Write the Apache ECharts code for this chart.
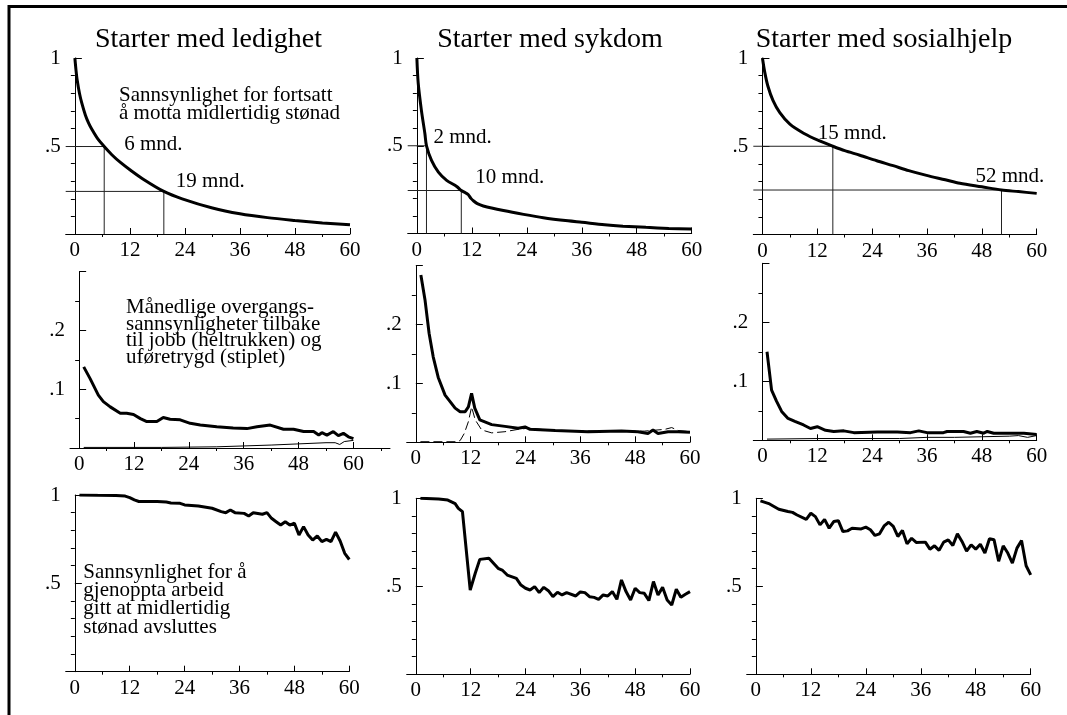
<!DOCTYPE html>
<html>
<head>
<meta charset="utf-8">
<script src="https://cdn.jsdelivr.net/npm/echarts@6/dist/echarts.min.js"></script>
<style>
html, body { margin: 0; padding: 0; background: #fff; }
#chart { width: 1067px; height: 715px; }
</style>
</head>
<body>
<div id="chart"></div>
<script>
// kolonner
const panelTitles = ["Starter med ledighet", "Starter med sykdom", "Starter med sosialhjelp"];
const xLabelTicks = [0, 12, 24, 36, 48, 60];
const xMinorTicks = [6, 18, 30, 42, 54];

// rad 1: sannsynlighet for fortsatt å motta stønad [måned, verdi]
const survLedighet = [[0, 1], [0.25, 0.93], [0.5, 0.875], [1, 0.8], [1.5, 0.745], [2.3, 0.675], [3, 0.63], [3.7, 0.595], [5, 0.54], [6.4, 0.497], [8, 0.452], [10, 0.405], [12, 0.365], [15, 0.31], [19.4, 0.242], [23.4, 0.2], [30, 0.148], [36, 0.115], [42, 0.093], [48, 0.077], [54, 0.063], [60, 0.052]];
const survSykdom = [[0, 1], [0.3, 0.855], [1, 0.7], [1.75, 0.57], [2.1, 0.5], [3.2, 0.417], [4.7, 0.35], [6.5, 0.303], [8.7, 0.268], [9.7, 0.245], [10.6, 0.232], [11.2, 0.222], [11.8, 0.2], [12.4, 0.185], [13.2, 0.17], [14.5, 0.157], [18.9, 0.131], [23.3, 0.109], [27.6, 0.09], [33, 0.072], [36, 0.064], [41, 0.05], [45, 0.042], [50, 0.035], [55, 0.029], [60, 0.025]];
const survSosial = [[0, 1], [0.5, 0.92], [1.2, 0.84], [2.3, 0.76], [3.8, 0.69], [6, 0.625], [9, 0.574], [12.5, 0.53], [15.4, 0.5], [18, 0.475], [21.3, 0.449], [25, 0.418], [28.6, 0.39], [32, 0.362], [35.9, 0.335], [40, 0.31], [43.2, 0.29], [48, 0.27], [52.3, 0.252], [56, 0.243], [60, 0.233]];
const medianPoints = [[6.4, 0.497], [2.1, 0.5], [15.4, 0.5]];
const medianLabels = ["6 mnd.", "2 mnd.", "15 mnd."];
const quartilePoints = [[19.4, 0.242], [9.7, 0.245], [52.3, 0.252]];
const quartileLabels = ["19 mnd.", "10 mnd.", "52 mnd."];

// rad 2: overgang til jobb (heltrukken) og uføretrygd (stiplet)
const jobbLedighet = [[1, 0.138], [2.4, 0.118], [4.2, 0.09], [5.3, 0.079], [6.8, 0.07], [9, 0.059], [10.4, 0.059], [11.9, 0.057], [13.4, 0.05], [14.8, 0.045], [17, 0.045], [18.4, 0.052], [19.9, 0.049], [22.1, 0.048], [24.3, 0.042], [26.5, 0.039], [30.1, 0.036], [33.7, 0.034], [36.7, 0.033], [38.9, 0.036], [41.8, 0.039], [44.7, 0.032], [46.9, 0.032], [49.1, 0.028], [51.3, 0.028], [52.4, 0.022], [53.1, 0.026], [54.2, 0.022], [55.6, 0.028], [56.7, 0.021], [57.8, 0.025], [58.9, 0.019], [60, 0.016]];
const uforeLedighet = [[1, 0.001], [18, 0.001], [30, 0.002], [42, 0.005], [48, 0.007], [54, 0.009], [56, 0.009], [57, 0.006], [58, 0.011], [60, 0.013]];
const jobbSykdom = [[1.1, 0.284], [2, 0.242], [2.9, 0.185], [3.8, 0.145], [4.9, 0.11], [6.4, 0.08], [8.6, 0.058], [9.7, 0.052], [10.8, 0.052], [11.5, 0.06], [12.2, 0.083], [12.9, 0.058], [14, 0.038], [16.6, 0.03], [19.5, 0.027], [22.4, 0.024], [23.9, 0.026], [25, 0.022], [30.5, 0.02], [37.7, 0.018], [45, 0.019], [48.6, 0.018], [50.8, 0.015], [51.9, 0.021], [53, 0.015], [55.2, 0.018], [57.4, 0.018], [60, 0.017]];
const uforeSykdom = [[1, 0.001], [9, 0.001], [9.7, 0.003], [10.6, 0.015], [11.5, 0.035], [12.2, 0.06], [13, 0.038], [14.4, 0.021], [16.6, 0.016], [19.5, 0.018], [22.4, 0.022], [24.6, 0.024], [30, 0.02], [40, 0.019], [50, 0.019], [54.5, 0.022], [56, 0.025], [57.4, 0.02], [60, 0.018]];
const jobbSosial = [[1, 0.15], [2, 0.085], [3.1, 0.066], [4.2, 0.049], [5.6, 0.037], [7.1, 0.032], [9, 0.026], [10.5, 0.02], [12, 0.023], [13.8, 0.017], [15.6, 0.015], [17.8, 0.016], [20, 0.013], [25.1, 0.014], [29.5, 0.014], [32.4, 0.013], [34.2, 0.016], [36, 0.013], [39.6, 0.013], [40.4, 0.015], [44, 0.015], [45.5, 0.012], [46.9, 0.015], [48.4, 0.012], [49.2, 0.015], [50.6, 0.012], [54.3, 0.012], [57.2, 0.012], [60, 0.01]];
const uforeSosial = [[1, 0.002], [12, 0.003], [24, 0.003], [30, 0.003], [36, 0.005], [42, 0.005], [48, 0.006], [54, 0.007], [56, 0.008], [58, 0.005], [60, 0.008]];

// rad 3: sannsynlighet for å gjenoppta arbeid
const arbeidLedighet = [[1, 1.0], [5, 0.998], [9, 0.997], [11, 0.994], [12, 0.985], [13, 0.972], [14, 0.963], [18, 0.963], [20, 0.96], [21, 0.955], [23, 0.953], [24, 0.944], [27, 0.938], [30, 0.925], [32, 0.906], [33, 0.9], [34, 0.915], [35, 0.9], [37, 0.896], [38, 0.881], [39, 0.9], [41, 0.891], [42, 0.9], [43, 0.868], [44, 0.849], [45, 0.83], [46, 0.849], [47, 0.83], [48, 0.84], [49, 0.774], [50, 0.821], [51, 0.774], [52, 0.745], [53, 0.768], [54, 0.736], [55, 0.749], [56, 0.736], [57, 0.79], [58, 0.74], [59, 0.67], [60, 0.635]];
const arbeidSykdom = [[1, 1.0], [5, 0.996], [7, 0.99], [8.6, 0.97], [9.3, 0.943], [10.2, 0.924], [11.9, 0.479], [13, 0.574], [14, 0.653], [16, 0.659], [18, 0.602], [19, 0.59], [20, 0.564], [22, 0.545], [23, 0.507], [24, 0.489], [25, 0.479], [26, 0.498], [27, 0.464], [28, 0.494], [29, 0.475], [30, 0.441], [31, 0.466], [32, 0.451], [33, 0.464], [35, 0.445], [36, 0.468], [37, 0.464], [38, 0.441], [39, 0.437], [40, 0.426], [41, 0.451], [42, 0.445], [43, 0.47], [44, 0.426], [45, 0.536], [46, 0.47], [47, 0.422], [48, 0.489], [49, 0.464], [50, 0.46], [51, 0.419], [52, 0.527], [53, 0.451], [54, 0.494], [55, 0.422], [56, 0.394], [57, 0.483], [58, 0.438], [59, 0.455], [60, 0.47]];
const arbeidSosial = [[1, 0.985], [3, 0.968], [5, 0.938], [7, 0.925], [8, 0.92], [9, 0.905], [11, 0.88], [12, 0.915], [13, 0.896], [14, 0.849], [15, 0.88], [16, 0.83], [17, 0.868], [18, 0.873], [19, 0.811], [20, 0.815], [21, 0.83], [23, 0.826], [24, 0.836], [25, 0.821], [26, 0.789], [27, 0.798], [28, 0.843], [29, 0.864], [30, 0.84], [31, 0.783], [32, 0.817], [33, 0.741], [34, 0.773], [35, 0.749], [37, 0.751], [38, 0.711], [39, 0.73], [40, 0.704], [41, 0.751], [42, 0.764], [43, 0.732], [44, 0.798], [45, 0.755], [46, 0.7], [47, 0.736], [48, 0.711], [49, 0.739], [50, 0.689], [51, 0.77], [52, 0.764], [53, 0.642], [54, 0.73], [55, 0.689], [56, 0.632], [57, 0.717], [58, 0.76], [59, 0.617], [60, 0.565]];

const FONT = "Liberation Serif";
const BLACK = "#000";

// plassering av de ni panelene (piksler)
const panels = [
    { left: 65.7, top: 58, width: 284.3, height: 176, xMax: 60, row: 0 },
    { left: 407.7, top: 58, width: 284, height: 175.5, xMax: 60, row: 0 },
    { left: 753.3, top: 58, width: 283.4, height: 176.5, xMax: 60, row: 0 },
    { left: 70, top: 271.7, width: 320, height: 176.3, xMax: 68, row: 1 },
    { left: 406.7, top: 265.5, width: 283.3, height: 176.8, xMax: 60, row: 1 },
    { left: 753.3, top: 263.3, width: 283.4, height: 177, xMax: 60, row: 1 },
    { left: 65.7, top: 495, width: 283.6, height: 176.7, xMax: 60, row: 2 },
    { left: 406.7, top: 498.3, width: 283.3, height: 176, xMax: 60, row: 2 },
    { left: 746.7, top: 498.3, width: 284, height: 176, xMax: 60, row: 2 },
];

const fmtY = v => String(+v.toFixed(2)).replace(/^0\./, ".");

const grid = [];
const xAxis = [];
const yAxis = [];
panels.forEach((p, i) => {
    grid.push({ left: p.left, top: p.top, width: p.width, height: p.height });
    const yMax = p.row === 1 ? 0.3 : 1;
    const yMajor = p.row === 1 ? [0.1, 0.2, 0.3] : [0.5, 1];
    const yLabels = p.row === 1 ? [0.1, 0.2] : [0.5, 1];
    const yMinor = p.row === 1 ? [0.05, 0.15, 0.25] : [0.1, 0.2, 0.3, 0.4, 0.6, 0.7, 0.8, 0.9];
    const xMinor = p.xMax > 60 ? xMinorTicks.concat([66]) : xMinorTicks;
    xAxis.push({
        gridIndex: i, type: "value", min: -2, max: p.xMax,
        axisLine: { show: true, lineStyle: { color: BLACK, width: 1 } },
        axisTick: { show: true, inside: true, length: 6, customValues: xLabelTicks, lineStyle: { color: BLACK } },
        axisLabel: { customValues: xLabelTicks, fontFamily: FONT, fontSize: 21, color: BLACK, margin: 6 },
        splitLine: { show: false },
    });
    xAxis.push({
        gridIndex: i, type: "value", min: -2, max: p.xMax,
        axisLine: { show: false },
        axisTick: { show: true, inside: true, length: 3, customValues: xMinor, lineStyle: { color: BLACK } },
        axisLabel: { show: false },
        splitLine: { show: false },
    });
    yAxis.push({
        gridIndex: i, type: "value", min: 0, max: yMax,
        axisLine: { show: true, lineStyle: { color: BLACK, width: 1 } },
        axisTick: { show: true, inside: true, length: 7, customValues: yMajor, lineStyle: { color: BLACK } },
        axisLabel: { customValues: yLabels, formatter: fmtY, fontFamily: FONT, fontSize: 21, color: BLACK, margin: 5 },
        splitLine: { show: false },
    });
    yAxis.push({
        gridIndex: i, type: "value", min: 0, max: yMax,
        axisLine: { show: false },
        axisTick: { show: true, inside: true, length: 4, customValues: yMinor, lineStyle: { color: BLACK } },
        axisLabel: { show: false },
        splitLine: { show: false },
    });
});

const series = [];
const thick = (i, data, smooth) => ({
    type: "line", xAxisIndex: 2 * i, yAxisIndex: 2 * i, data,
    showSymbol: false, smooth: smooth || false, z: 5,
    lineStyle: { color: BLACK, width: 3 },
});
const thin = (i, data, dashed) => ({
    type: "line", xAxisIndex: 2 * i, yAxisIndex: 2 * i, data,
    showSymbol: false, z: 4,
    lineStyle: { color: BLACK, width: 1, type: dashed ? [9, 4] : "solid" },
});

[survLedighet, survSykdom, survSosial].forEach((d, i) => series.push(thick(i, d, 0.3)));

// hjelpelinjer og etiketter for median og kvartil
const medOffsets = [[20, -2], [7, -8], [-15, -13]];
const quartOffsets = [[12, -10], [14, -13], [-26, -14]];
[0, 1, 2].forEach(i => {
    [[medianPoints[i], medianLabels[i], medOffsets[i]], [quartilePoints[i], quartileLabels[i], quartOffsets[i]]].forEach(([pt, txt, off]) => {
        series.push({
            type: "line", xAxisIndex: 2 * i, yAxisIndex: 2 * i,
            data: [[-2, pt[1]], pt, [pt[0], 0]],
            showSymbol: false, z: 3,
            lineStyle: { color: "#222", width: 1 },
        });
        series.push({
            type: "scatter", xAxisIndex: 2 * i, yAxisIndex: 2 * i,
            data: [pt], symbolSize: 0, z: 6,
            itemStyle: { opacity: 1 },
            label: {
                show: true, formatter: txt, position: off, align: "left", verticalAlign: "middle",
                fontFamily: FONT, fontSize: 21, color: BLACK, opacity: 1,
            },
        });
    });
});

[jobbLedighet, jobbSykdom, jobbSosial].forEach((d, i) => series.push(thick(3 + i, d)));
[uforeLedighet, uforeSykdom, uforeSosial].forEach((d, i) => series.push(thin(3 + i, d, i === 1)));
[arbeidLedighet, arbeidSykdom, arbeidSosial].forEach((d, i) => series.push(thick(6 + i, d)));

const textStyle = (text, size, lh) => ({
    text, fill: BLACK, font: `${size}px "${FONT}"`, lineHeight: lh,
});

const graphic = [
    {
        type: "polyline", silent: true,
        shape: { points: [[9, 715], [9, 6.5], [1067, 6.5]] },
        style: { stroke: BLACK, lineWidth: 3, fill: null },
    },
    { type: "text", x: 208.5, y: 40, style: { ...textStyle(panelTitles[0], 28, 28), align: "center", verticalAlign: "middle" } },
    { type: "text", x: 550, y: 40, style: { ...textStyle(panelTitles[1], 28, 28), align: "center", verticalAlign: "middle" } },
    { type: "text", x: 884, y: 40, style: { ...textStyle(panelTitles[2], 28, 28), align: "center", verticalAlign: "middle" } },
    { type: "text", x: 119, y: 87, style: { ...textStyle("Sannsynlighet for fortsatt\nå motta midlertidig stønad", 21, 17.5), align: "left", verticalAlign: "top" } },
    { type: "text", x: 126, y: 299, style: { ...textStyle("Månedlige overgangs-\nsannsynligheter tilbake\ntil jobb (heltrukken) og\nuføretrygd (stiplet)", 21, 16.7), align: "left", verticalAlign: "top" } },
    { type: "text", x: 83.3, y: 563, style: { ...textStyle("Sannsynlighet for å\ngjenoppta arbeid\ngitt at midlertidig\nstønad avsluttes", 21, 18.3), align: "left", verticalAlign: "top" } },
];

const chart = echarts.init(document.getElementById("chart"), null, { renderer: "canvas" });
chart.setOption({
    animation: false,
    backgroundColor: "#fff",
    grid, xAxis, yAxis, series, graphic,
});
</script>
</body>
</html>
